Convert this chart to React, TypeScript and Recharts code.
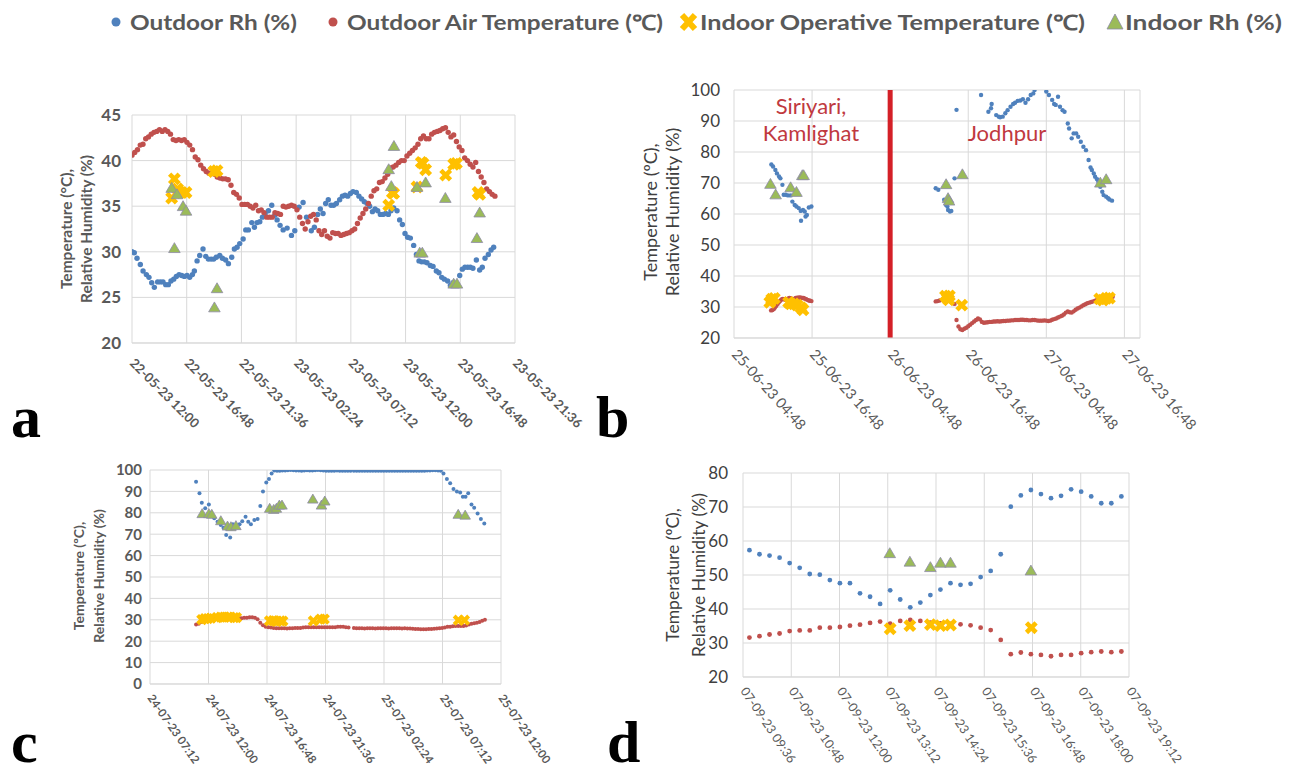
import { ScatterChart, Scatter, XAxis, YAxis, CartesianGrid, ReferenceLine } from "recharts";

// colours (Excel-ish palette)
const BLUE = "#4F81BD";
const RED = "#C0504D";
const YELLOW = "#FFC000";
const GREEN = "#9BBB59";
const TXT = "#595959";
const FONT = "Lato, 'Open Sans', sans-serif";

type Pt = { x: number; y: number };
// x is hours since the first tick of each panel
const regular = (t0: number, t1: number, vals: number[]): Pt[] =>
  vals.map((v, i) => ({ x: t0 + ((t1 - t0) * i) / (vals.length - 1), y: v }));
const pairs = (arr: number[][]): Pt[] => arr.map(([x, y]) => ({ x, y }));

// ---------- panel a : 22-23 May ----------
const aTicks = [0, 4.8, 9.6, 14.4, 19.2, 24, 28.8, 33.6];
const aTickLabels = ["22-05-23 12:00", "22-05-23 16:48", "22-05-23 21:36", "23-05-23 02:24", "23-05-23 07:12", "23-05-23 12:00", "23-05-23 16:48", "23-05-23 21:36"];
const aYTicks = [20, 25, 30, 35, 40, 45];
const aOutdoorTemp = [
  40.6, 40.9, 41.2, 41.7, 41.8, 42.4, 42.6, 42.9, 43.1, 43.2, 43.4, 43.2, 43.4, 43.2, 42.9, 42.3, 42.2, 42.3, 42.2, 42.3,
  42.0, 41.7, 41.2, 40.4, 40.1, 39.5, 39.1, 38.8, 38.6, 38.7, 38.5, 38.2, 38.1, 38.0, 38.0, 37.9, 37.3, 36.5, 36.3, 35.9,
  35.2, 35.2, 35.2, 35.0, 34.8, 35.1, 34.5, 34.6, 34.3, 33.8, 33.8, 33.8, 34.3, 34.2, 34.1, 35.0, 34.9, 35.0, 35.1, 35.0,
  34.6, 33.8, 33.1, 32.5, 33.3, 33.9, 34.1, 33.5, 32.3, 31.9, 32.3, 31.7, 31.5, 32.1, 32.0, 32.0, 31.8, 31.9, 32.0, 32.1,
  32.3, 32.5, 33.1, 33.7, 34.2, 34.7, 35.3, 36.1, 36.7, 36.9, 37.6, 37.7, 38.1, 38.5, 39.2, 39.3, 39.5, 39.8, 40.0, 40.0,
  40.5, 40.8, 41.1, 41.4, 41.8, 42.4, 42.7, 42.4, 42.4, 42.9, 43.1, 43.2, 43.3, 43.5, 43.6, 43.1, 42.6, 42.8, 42.1, 41.5,
  41.1, 40.3, 40.0, 39.6, 39.3, 39.8, 38.8, 38.2, 37.6, 36.9, 36.6, 36.3, 36.1,
];
const aOutdoorRh = [
  [0, 30.0], [0.2, 29.9], [0.44, 29.3], [0.73, 28.6], [0.97, 27.9], [1.26, 27.5], [1.49, 27.2], [1.73, 26.6], [1.96, 26.1],
  [2.25, 26.7], [2.49, 26.7], [2.72, 26.7], [2.96, 26.4], [3.19, 26.4], [3.42, 26.8], [3.66, 27.0], [3.89, 27.3], [4.13, 27.5],
  [4.36, 27.4], [4.59, 27.3], [4.83, 27.4], [5.06, 27.2], [5.3, 27.5], [5.47, 27.9], [5.71, 29.0], [5.94, 29.6], [6.23, 30.3],
  [6.47, 29.5], [6.7, 29.2], [6.94, 29.2], [7.17, 29.2], [7.4, 29.4], [7.7, 29.6], [7.93, 29.3], [8.22, 29.1], [8.46, 28.7],
  [8.75, 29.4], [8.98, 30.3], [9.22, 30.5], [9.45, 30.9], [9.75, 31.4], [9.98, 32.4], [10.21, 32.4], [10.51, 33.2], [10.74, 32.7],
  [10.97, 33.2], [11.21, 33.3], [11.44, 33.8], [11.68, 34.2], [11.97, 34.5], [12.26, 35.1], [12.53, 34.0], [12.73, 33.5],
  [12.99, 32.9], [13.26, 32.4], [13.61, 32.6], [13.99, 31.8], [14.28, 32.3], [14.66, 34.9], [15.01, 35.4], [15.31, 33.8],
  [15.73, 32.3], [16.0, 32.7], [16.29, 34.1], [16.52, 34.7], [16.76, 34.2], [16.99, 35.3], [17.22, 35.7], [17.46, 35.1],
  [17.69, 35.1], [17.93, 35.3], [18.22, 35.7], [18.46, 36.1], [18.69, 36.2], [18.92, 36.1], [19.16, 36.4], [19.39, 36.6],
  [19.68, 36.5], [19.91, 36.1], [20.15, 35.8], [20.38, 35.5], [20.62, 35.3], [20.85, 35.0], [21.09, 34.4], [21.32, 34.7],
  [21.55, 34.5], [21.79, 34.1], [22.02, 34.1], [22.26, 34.2], [22.49, 34.1], [22.72, 34.5], [22.96, 34.8], [23.25, 34.5],
  [23.48, 33.5], [23.72, 33.0], [23.95, 32.0], [24.18, 31.6], [24.42, 31.5], [24.71, 30.7], [24.95, 29.7], [25.18, 29.0],
  [25.41, 28.9], [25.65, 28.9], [25.88, 28.8], [26.17, 28.5], [26.41, 28.4], [26.7, 27.9], [26.93, 27.7], [27.17, 27.2],
  [27.4, 27.0], [27.69, 26.8], [27.93, 26.3], [28.16, 26.6], [28.45, 26.5], [28.75, 27.4], [28.98, 28.1], [29.21, 28.3],
  [29.45, 28.3], [29.68, 28.3], [29.91, 28.2], [30.21, 29.1], [30.5, 28.0], [30.73, 28.3], [30.97, 29.3], [31.26, 29.7],
  [31.5, 30.2], [31.73, 30.5],
];
const aIndoorOp = [
  [3.48, 35.9], [3.72, 38.0], [4.0, 36.9], [4.36, 36.5], [4.74, 36.5], [7.17, 38.8], [7.46, 38.9], [22.52, 35.1],
  [22.84, 36.5], [22.96, 36.4], [25.0, 37.1], [25.38, 39.8], [25.53, 39.7], [25.76, 39.0], [27.52, 38.4], [28.22, 39.6],
  [28.46, 39.7], [30.36, 36.5], [30.5, 36.3],
];
const aIndoorRh = [
  [3.48, 37.0], [3.72, 30.4], [3.95, 36.3], [4.48, 35.0], [4.74, 34.5], [7.23, 23.9], [7.46, 26.0], [22.52, 39.05],
  [22.75, 37.2], [22.98, 41.6], [25.0, 37.1], [25.24, 29.9], [25.47, 29.9], [25.76, 37.6], [27.49, 35.9], [28.22, 26.5],
  [28.51, 26.5], [30.26, 31.5], [30.5, 34.3],
];

// ---------- panel b : 25-27 June ----------
const bTicks = [0, 12, 24, 36, 48, 60];
const bTickLabels = ["25-06-23 04:48", "25-06-23 16:48", "26-06-23 04:48", "26-06-23 16:48", "27-06-23 04:48", "27-06-23 16:48"];
const bYTicks = [20, 30, 40, 50, 60, 70, 80, 90, 100];
const bSiteChange = 24; // move from Siriyari/Kamlighat to Jodhpur
const bOutdoorRh = [
  [5.74, 76.0], [6.0, 75.3], [6.36, 74.2], [6.6, 73.1], [6.92, 72.1], [7.13, 71.5], [7.44, 69.4], [7.64, 66.2], [7.95, 66.2],
  [8.3, 66.0], [8.72, 66.0], [8.97, 64.0], [9.33, 62.9], [9.6, 62.4], [9.95, 61.9], [10.26, 61.0], [10.6, 61.3], [10.3, 57.8],
  [10.87, 60.8], [11.0, 59.2], [11.2, 59.7], [11.5, 62.1], [11.9, 62.4],
  [31.0, 68.3], [31.4, 67.8], [32.3, 64.6], [32.6, 62.9], [32.8, 62.4], [32.9, 61.3], [33.2, 60.8], [33.4, 61.0], [33.9, 71.5],
  [34.2, 93.6], [37.97, 98.4], [39.1, 93.0], [39.5, 94.1], [39.6, 95.5], [40.3, 91.9], [40.7, 91.4], [40.9, 91.2], [41.3, 91.4],
  [41.7, 92.5], [42.05, 93.5], [42.5, 94.6], [42.9, 95.5], [43.2, 95.9], [43.6, 96.5], [44.0, 96.6], [44.4, 97.0], [44.8, 95.9],
  [45.2, 97.0], [45.6, 98.4], [46.0, 98.9], [46.2, 100], [48.0, 99.5], [48.4, 98.4], [48.9, 96.8], [49.2, 95.5], [49.45, 95.2],
  [49.8, 97.8], [50.1, 94.6], [50.5, 93.5], [50.8, 93.0], [51.3, 89.2], [51.5, 87.6], [51.9, 84.4], [52.2, 86.0], [52.6, 86.0],
  [52.9, 84.9], [53.3, 83.3], [53.7, 81.7], [54.1, 80.6], [54.5, 77.4], [54.8, 75.0], [55.0, 74.2], [55.3, 73.1], [55.5, 72.0],
  [55.8, 71.2], [56.0, 70.4], [56.3, 68.8], [56.6, 67.2], [56.8, 66.1], [57.2, 65.6], [57.5, 65.1], [57.7, 64.7], [58.1, 64.3],
];
const bOutdoorTempSiriyari = [
  28.9, 29.0, 29.3, 29.8, 30.4, 31.0, 31.5, 32.0, 32.4, 32.6, 32.5, 32.3, 32.5, 32.7, 32.9, 32.8, 32.6, 32.5, 32.7, 32.9,
  33.0, 33.0, 33.1, 33.0, 32.9, 32.9, 32.7, 32.5, 32.3, 32.1, 32.0, 31.9,
];
const bOutdoorTempJodhpurStart = [[31.0, 31.8], [31.3, 31.9], [31.6, 32.1], [33.9, 31.0]];
const bOutdoorTempJodhpur = [
  25.8, 23.7, 22.8, 22.6, 23.0, 23.3, 23.8, 24.3, 24.8, 25.3, 25.8, 26.3, 26.0, 25.2, 24.9, 25.0, 25.1, 25.2, 25.2, 25.3,
  25.3, 25.4, 25.3, 25.4, 25.5, 25.5, 25.6, 25.6, 25.7, 25.7, 25.8, 25.8, 25.8, 25.9, 25.9, 25.8, 25.8, 25.7, 25.7, 25.8,
  25.8, 25.7, 25.6, 25.6, 25.6, 25.7, 25.6, 25.5, 25.6, 25.9, 26.1, 26.3, 26.6, 26.9, 27.2, 27.6, 28.2, 28.6, 28.3, 28.2,
  28.6, 29.1, 29.5, 29.8, 30.2, 30.6, 30.9, 31.2, 31.4, 31.6, 31.8, 32.0, 32.3, 32.5, 32.7, 32.8, 32.9, 33.0, 33.1, 33.2,
  33.3,
];
const bIndoorOp = [
  [5.5, 31.5], [5.8, 32.5], [6.2, 32.8], [8.4, 31.5], [8.7, 31.0], [9.2, 31.0], [9.7, 30.6], [10.3, 29.8], [10.6, 29.1],
  [32.5, 33.5], [32.8, 32.8], [33.1, 33.6], [33.0, 32.3], [35.0, 30.6], [56.2, 32.6], [56.7, 32.2], [57.2, 32.8], [57.7, 32.9],
];
const bIndoorRh = [
  [5.6, 69.7], [6.4, 66.3], [8.7, 68.6], [9.6, 67.1], [10.5, 72.5], [10.7, 72.5], [32.6, 69.6], [32.9, 65.1], [33.05, 64.3],
  [35.1, 72.8], [56.3, 70.1], [57.2, 71.2],
];

// ---------- panel c : 24-25 July ----------
const cTicks = [0, 4.8, 9.6, 14.4, 19.2, 24, 28.8];
const cTickLabels = ["24-07-23 07:12", "24-07-23 12:00", "24-07-23 16:48", "24-07-23 21:36", "25-07-23 02:24", "25-07-23 07:12", "25-07-23 12:00"];
const cYTicks = [0, 10, 20, 30, 40, 50, 60, 70, 80, 90, 100];
const cOutdoorRhRise = [
  [3.78, 94.5], [4.06, 89.1], [4.25, 84.7], [4.53, 82.1], [4.83, 83.9], [4.94, 79.7], [5.27, 77.4], [5.54, 75.8], [5.81, 74.3],
  [6.03, 73.0], [6.25, 69.6], [6.58, 68.5], [6.8, 74.6], [7.08, 74.3], [7.35, 74.7], [7.57, 76.1], [7.84, 78.2], [8.06, 75.8],
  [8.28, 74.7], [8.56, 76.6], [8.83, 77.1], [9.05, 83.2], [9.27, 89.9], [9.54, 94.2], [9.76, 95.8], [9.98, 98.4], [10.2, 99.8],
];
const cOutdoorRhNight1 = [
  99.7, 99.7, 99.8, 99.8, 99.9, 100, 99.9, 99.8, 99.8, 99.7, 99.8, 99.9, 99.8, 99.8, 99.9, 100, 99.9, 99.8, 99.7, 99.7,
  99.7, 99.7, 99.8, 99.7, 99.7, 99.7, 99.7, 99.6,
];
const cOutdoorRhNight2 = [
  99.7, 99.7, 99.7, 99.7, 99.7, 99.7, 99.7, 99.7, 99.7, 99.7, 99.7, 99.7, 99.7, 99.7, 99.7, 99.7, 99.7, 99.7, 99.7, 99.7,
  99.6, 99.6, 99.6, 99.6, 99.7, 99.7, 99.7, 99.8, 99.8, 99.9, 99.9, 99.8, 99.6,
];
const cOutdoorRhFall = [
  [24.08, 98.4], [24.36, 95.8], [24.63, 93.8], [24.9, 91.1], [25.18, 89.9], [25.45, 89.5], [25.67, 87.5], [25.89, 87.5],
  [26.11, 89.1], [26.38, 83.9], [26.6, 82.4], [26.88, 79.7], [27.15, 77.1], [27.43, 75.0],
];
const cOutdoorTemp1 = [
  27.8, 28.2, 29.0, 29.5, 30.0, 30.1, 30.3, 30.4, 30.6, 30.7, 30.9, 30.9, 30.9, 30.9, 30.9, 30.9, 30.9, 30.7, 30.9, 31.0,
  31.2, 31.2, 30.9, 30.3, 28.6, 27.5, 26.8, 26.5, 26.4, 26.2, 26.1, 26.1, 26.1, 26.1, 25.9, 26.1, 26.1, 26.2, 26.2, 26.2,
  26.4, 26.5, 26.5, 26.5, 26.5, 26.5, 26.5, 26.5, 26.5, 26.5, 26.5, 26.5, 26.5, 26.7, 26.7, 26.7, 26.5, 26.4,
];
const cOutdoorTemp2 = [
  26.2, 26.1, 26.0, 26.0, 25.9, 26.0, 26.0, 26.0, 25.9, 26.0, 26.0, 26.0, 26.0, 25.9, 26.0, 26.0, 26.0, 26.0, 25.9, 26.0,
  25.9, 25.9, 25.8, 25.7, 25.7, 25.6, 25.6, 25.6, 25.7, 25.7, 25.8, 25.9, 26.1, 26.2, 26.4, 26.7, 26.8, 27.0, 27.1, 27.1,
  27.1, 27.1, 27.3, 27.8, 28.1, 28.4, 28.6, 29.0, 29.5, 30.0,
];
const cIndoorOp = [
  [4.25, 30.1], [4.5, 30.5], [4.75, 30.6], [5.0, 30.8], [5.5, 31.0], [5.8, 31.2], [6.1, 31.2], [6.4, 31.3], [6.6, 31.3],
  [6.9, 31.0], [7.1, 31.0], [9.8, 29.5], [10.1, 29.6], [10.4, 29.3], [10.7, 29.5], [10.9, 29.4], [13.4, 29.5], [14.0, 30.3],
  [14.3, 30.3], [25.3, 29.8], [25.8, 29.8],
];
const cIndoorRh = [
  [4.28, 79.6], [4.83, 79.6], [5.07, 79.3], [5.81, 76.3], [6.36, 73.8], [6.64, 73.5], [7.05, 74.0], [9.82, 82.1],
  [10.15, 81.6], [10.37, 82.1], [10.61, 83.6], [10.83, 83.6], [13.36, 86.4], [14.07, 83.6], [14.34, 85.5], [25.29, 79.3],
  [25.86, 78.9],
];

// ---------- panel d : 7 September ----------
const dTicks = [0, 1.2, 2.4, 3.6, 4.8, 6.0, 7.2, 8.4, 9.6];
const dTickLabels = ["07-09-23 09:36", "07-09-23 10:48", "07-09-23 12:00", "07-09-23 13:12", "07-09-23 14:24", "07-09-23 15:36", "07-09-23 16:48", "07-09-23 18:00", "07-09-23 19:12"];
const dYTicks = [20, 30, 40, 50, 60, 70, 80];
const dOutdoorRh = [
  57.3, 56.1, 55.7, 55.1, 53.5, 52.1, 50.3, 50.1, 48.5, 47.6, 47.6, 44.6, 43.6, 41.5, 45.5, 42.8, 40.5, 41.9, 44.1, 45.7,
  47.6, 47.1, 47.4, 49.4, 51.2, 56.1, 70.1, 73.4, 75.0, 73.8, 72.6, 73.3, 75.2, 74.5, 73.1, 71.1, 71.1, 73.1,
];
const dOutdoorTemp = [
  31.6, 32.0, 32.5, 32.8, 33.5, 33.7, 33.7, 34.5, 34.5, 34.7, 35.1, 35.4, 35.9, 36.3, 35.7, 36.5, 36.8, 36.5, 36.0, 35.8,
  35.6, 35.5, 35.2, 34.5, 33.8, 30.9, 26.7, 27.2, 26.7, 26.5, 26.1, 26.5, 26.5, 27.0, 27.3, 27.5, 27.3, 27.5,
];
const dIndoorOp = [[3.66, 34.2], [4.15, 35.1], [4.66, 35.4], [4.91, 35.1], [5.16, 35.3], [7.17, 34.5]];
const dIndoorRh = [[3.65, 56.4], [4.15, 53.9], [4.66, 52.3], [4.91, 53.6], [5.16, 53.6], [7.16, 51.3]];

// ---------- marker shapes ----------
const dot = (color: string, r: number) => (p: any) => <circle cx={p.cx} cy={p.cy} r={r} fill={color} />;
const cross = (s: number, w: number) => (p: any) => (
  <path
    d={`M${p.cx - s},${p.cy - s}L${p.cx + s},${p.cy + s}M${p.cx - s},${p.cy + s}L${p.cx + s},${p.cy - s}`}
    stroke={YELLOW}
    strokeWidth={w}
  />
);
const tri = (s: number) => (p: any) => (
  <polygon
    points={`${p.cx},${p.cy - s} ${p.cx + s * 1.05},${p.cy + s * 0.8} ${p.cx - s * 1.05},${p.cy + s * 0.8}`}
    fill={GREEN}
    stroke="#8e8aa8"
    strokeWidth={0.8}
  />
);

const panels = [
  {
    key: "a", left: 0, top: 95, width: 600, height: 345,
    margin: { top: 20, right: 85, bottom: 7, left: 92 }, yw: 40, xh: 90,
    xDomain: [0, 33.6], xTicks: aTicks, xLabels: aTickLabels, yDomain: [20, 45], yTicks: aYTicks,
    yFont: { fontSize: 17, fontWeight: 700, fill: TXT }, yMargin: 5,
    xFont: { size: 13, weight: 700, angle: 45, dx: -3, dy: 13 },
    rh: pairs(aOutdoorRh), temp: [regular(0, 31.84, aOutdoorTemp)], op: pairs(aIndoorOp), inRh: pairs(aIndoorRh),
    r: 2.7, cs: 4.8, cw: 4.6, ts: 5.5,
  },
  {
    key: "b", left: 620, top: 75, width: 590, height: 360,
    margin: { top: 15, right: 70, bottom: 7, left: 64 }, yw: 50, xh: 90,
    xDomain: [0, 62.4], xTicks: bTicks, xLabels: bTickLabels, yDomain: [20, 100], yTicks: bYTicks,
    yFont: { fontSize: 17, fontWeight: 400, fill: "#404040" }, yMargin: 8,
    xFont: { size: 14.5, weight: 400, angle: 48, dx: -3, dy: 9 },
    rh: pairs(bOutdoorRh),
    temp: [regular(5.7, 11.9, bOutdoorTempSiriyari), pairs(bOutdoorTempJodhpurStart), regular(34.2, 58.2, bOutdoorTempJodhpur)],
    op: pairs(bIndoorOp), inRh: pairs(bIndoorRh), refX: bSiteChange,
    r: 2.2, cs: 4.8, cw: 4.6, ts: 5.5,
  },
  {
    key: "c", left: 60, top: 455, width: 520, height: 320,
    margin: { top: 15, right: 79, bottom: 6, left: 40 }, yw: 50, xh: 85,
    xDomain: [0, 28.8], xTicks: cTicks, xLabels: cTickLabels, yDomain: [0, 100], yTicks: cYTicks,
    yFont: { fontSize: 15, fontWeight: 700, fill: TXT }, yMargin: 2,
    xFont: { size: 11.5, weight: 700, angle: 55, dx: -3, dy: 6 },
    rh: [...pairs(cOutdoorRhRise), ...regular(10.42, 16.46, cOutdoorRhNight1), ...regular(16.73, 23.86, cOutdoorRhNight2), ...pairs(cOutdoorRhFall)],
    temp: [regular(3.78, 16.29, cOutdoorTemp1), regular(16.73, 27.48, cOutdoorTemp2)],
    op: pairs(cIndoorOp), inRh: pairs(cIndoorRh),
    r: 2.0, cs: 4.2, cw: 4.0, ts: 5,
  },
  {
    key: "d", left: 620, top: 460, width: 580, height: 315,
    margin: { top: 13, right: 71, bottom: 8, left: 73 }, yw: 50, xh: 90,
    xDomain: [0, 9.6], xTicks: dTicks, xLabels: dTickLabels, yDomain: [20, 80], yTicks: dYTicks,
    yFont: { fontSize: 17, fontWeight: 400, fill: "#404040" }, yMargin: 9,
    xFont: { size: 12.5, weight: 400, angle: 56, dx: -3, dy: 6 },
    rh: regular(0.16, 9.41, dOutdoorRh), temp: [regular(0.16, 9.41, dOutdoorTemp)],
    op: pairs(dIndoorOp), inRh: pairs(dIndoorRh),
    r: 2.4, cs: 4.8, cw: 4.6, ts: 5.5,
  },
];

const makeTick = (p: any) => (props: any) => {
  const { x, y, payload } = props;
  const i = p.xTicks.indexOf(payload.value);
  return (
    <text
      transform={`translate(${x + p.xFont.dx},${y + p.xFont.dy}) rotate(${p.xFont.angle})`}
      textAnchor="start"
      fontSize={p.xFont.size}
      fontWeight={p.xFont.weight}
      fontFamily={FONT}
      fill={TXT}
    >
      {p.xLabels[i]}
    </text>
  );
};

function Panel({ p }: { p: any }) {
  return (
    <div style={{ position: "absolute", left: p.left, top: p.top }}>
      <ScatterChart width={p.width} height={p.height} margin={p.margin}>
        <CartesianGrid stroke="#d9d9d9" />
        <XAxis
          type="number" dataKey="x" domain={p.xDomain} ticks={p.xTicks} interval={0} allowDataOverflow
          height={p.xh} axisLine={{ stroke: "#d9d9d9" }} tickLine={false} tick={makeTick(p)}
        />
        <YAxis
          type="number" dataKey="y" domain={p.yDomain} ticks={p.yTicks} interval={0} allowDataOverflow
          width={p.yw} axisLine={false} tickLine={false} tickMargin={p.yMargin}
          tick={{ ...p.yFont, fontFamily: FONT }}
        />
        {p.refX !== undefined && <ReferenceLine x={p.refX} stroke="#d42027" strokeWidth={5} />}
        <Scatter data={p.rh} shape={dot(BLUE, p.r)} isAnimationActive={false} />
        {p.temp.map((d: Pt[], i: number) => (
          <Scatter key={i} data={d} shape={dot(RED, p.r)} isAnimationActive={false} />
        ))}
        <Scatter data={p.op} shape={cross(p.cs, p.cw)} isAnimationActive={false} />
        <Scatter data={p.inRh} shape={tri(p.ts)} isAnimationActive={false} />
      </ScatterChart>
    </div>
  );
}

const axisTitles = [
  { x1: 66, x2: 86, cy: 229, size: 15.5, weight: 700, t1: "Temperature (°C),", fill: TXT },
  { x1: 650, x2: 672, cy: 212, size: 18, weight: 400, t1: "Temperature (ºC),", fill: "#404040" },
  { x1: 78, x2: 98, cy: 576, size: 14, weight: 700, t1: "Temperature (ºC),", fill: TXT },
  { x1: 672, x2: 698, cy: 575, size: 17.5, weight: 400, t1: "Temperature (ºC),", fill: "#404040" },
];

export default function App() {
  return (
    <div style={{ position: "absolute", left: 0, top: 0, width: 1297, height: 775, background: "#fff", overflow: "hidden" }}>
      {panels.map((p) => (
        <Panel key={p.key} p={p} />
      ))}
      <svg width={1297} height={775} style={{ position: "absolute", left: 0, top: 0, pointerEvents: "none" }}>
        {/* shared legend */}
        <g fontFamily={FONT} fontWeight={700} fontSize={21} fill={TXT}>
          <circle cx={116} cy={22} r={4.5} fill={BLUE} />
          <text x={130} y={30} textLength={167} lengthAdjust="spacingAndGlyphs">Outdoor Rh (%)</text>
          <circle cx={333} cy={22} r={4.5} fill={RED} />
          <text x={347} y={30} textLength={316} lengthAdjust="spacingAndGlyphs">Outdoor Air Temperature (℃)</text>
          <path d="M682,15L695,29M682,29L695,15" stroke={YELLOW} strokeWidth={6} />
          <text x={700} y={30} textLength={385} lengthAdjust="spacingAndGlyphs">Indoor Operative Temperature (℃)</text>
          <polygon points="1115,14 1123,29 1107,29" fill={GREEN} stroke="#8e8aa8" strokeWidth={0.8} />
          <text x={1125} y={30} textLength={157} lengthAdjust="spacingAndGlyphs">Indoor Rh (%)</text>
        </g>
        {/* y-axis titles */}
        {axisTitles.map((t, i) => (
          <g key={i} fontFamily={FONT} fontSize={t.size} fontWeight={t.weight} fill={t.fill} textAnchor="middle">
            <text x={t.x1} y={t.cy} dominantBaseline="central" transform={`rotate(-90, ${t.x1}, ${t.cy})`}>{t.t1}</text>
            <text x={t.x2} y={t.cy} dominantBaseline="central" transform={`rotate(-90, ${t.x2}, ${t.cy})`}>Relative Humidity (%)</text>
          </g>
        ))}
        {/* site labels on panel b */}
        <g fontFamily={FONT} fontSize={22} fill="#c0393f" textAnchor="middle">
          <text x={811} y={114}>Siriyari,</text>
          <text x={811} y={141}>Kamlighat</text>
          <text x={1007} y={141}>Jodhpur</text>
        </g>
        {/* panel letters */}
        <g fontFamily="'Liberation Serif', 'DejaVu Serif', serif" fontWeight={700} fontSize={60} fill="#000">
          <text x={11} y={437}>a</text>
          <text x={596} y={437}>b</text>
          <text x={11} y={762}>c</text>
          <text x={607} y={762}>d</text>
        </g>
      </svg>
    </div>
  );
}
